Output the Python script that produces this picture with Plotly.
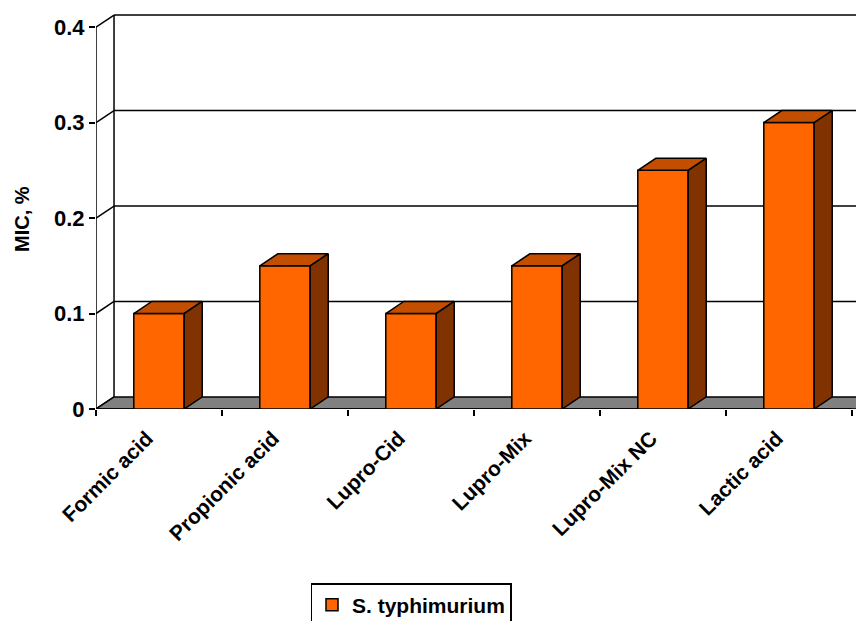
import plotly.graph_objects as go

# MIC values for S. typhimurium
categories = ["Formic acid", "Propionic acid", "Lupro-Cid", "Lupro-Mix", "Lupro-Mix NC", "Lactic acid"]
mic_values = [0.10, 0.15, 0.10, 0.15, 0.25, 0.30]
series_name = "S. typhimurium"
y_ticks = [0, 0.1, 0.2, 0.3, 0.4]
y_tick_text = ["0", "0.1", "0.2", "0.3", "0.4"]

# pseudo-3D depth offset (in data units) and bar width
DX = 0.143
DY = 0.0126
BAR_W = 0.4

FRONT = "#FF6600"
TOP = "#C44E00"
SIDE = "#803300"
FLOOR = "#808080"
FONT = "Liberation Sans, Arial, sans-serif"

n = len(categories)
xs = list(range(n))
x_left = -0.5
x_right = n - 0.5
x_max = x_right + 4 / 126  # small strip of floor visible beyond the last tick

fig = go.Figure()

# front faces
fig.add_trace(go.Bar(
    x=xs, y=mic_values, width=BAR_W, name=series_name,
    marker=dict(color=FRONT, line=dict(color="black", width=1.5)),
    showlegend=True,
))

# top and side faces of each bar
for x, v in zip(xs, mic_values):
    l, r = x - BAR_W / 2, x + BAR_W / 2
    fig.add_trace(go.Scatter(
        x=[l, l + DX, r + DX, r, l], y=[v, v + DY, v + DY, v, v],
        mode="lines", fill="toself", fillcolor=TOP,
        line=dict(color="black", width=1.5), showlegend=False, hoverinfo="skip",
    ))
    fig.add_trace(go.Scatter(
        x=[r, r + DX, r + DX, r, r], y=[0, DY, v + DY, v, 0],
        mode="lines", fill="toself", fillcolor=SIDE,
        line=dict(color="black", width=1.5), showlegend=False, hoverinfo="skip",
    ))

shapes = []
line_style = dict(color="black", width=1.5)
# back wall gridlines and top edge
for t in y_ticks[1:]:
    shapes.append(dict(type="line", xref="x", yref="y", layer="below",
                       x0=x_left + DX, x1=x_right + DX + 1, y0=t + DY, y1=t + DY,
                       line=line_style))
# back wall left edge
shapes.append(dict(type="line", xref="x", yref="y", layer="below",
                   x0=x_left + DX, x1=x_left + DX, y0=DY, y1=y_ticks[-1] + DY,
                   line=line_style))
# side wall diagonals at each tick
for t in y_ticks:
    shapes.append(dict(type="line", xref="x", yref="y", layer="below",
                       x0=x_left, x1=x_left + DX, y0=t, y1=t + DY, line=line_style))
# floor
shapes.append(dict(type="path", xref="x", yref="y", layer="below",
                   path=f"M {x_left},0 L {x_right + 1},0 L {x_right + 1 + DX},{DY} "
                        f"L {x_left + DX},{DY} Z",
                   fillcolor=FLOOR, line=line_style))
# front y axis line
shapes.append(dict(type="line", xref="x", yref="y", layer="above",
                   x0=x_left, x1=x_left, y0=0, y1=y_ticks[-1], line=line_style))
# front x axis line
shapes.append(dict(type="line", xref="x", yref="y", layer="below",
                   x0=x_left, x1=x_right, y0=0, y1=0, line=line_style))

fig.update_layout(
    width=856, height=621,
    margin=dict(l=96, r=0, t=8, b=212),
    paper_bgcolor="white", plot_bgcolor="white",
    font=dict(family=FONT, color="black"),
    shapes=shapes,
    xaxis=dict(
        range=[x_left, x_max], showgrid=False, zeroline=False, showline=False,
        automargin=False,
        tickmode="array", tickvals=xs, ticktext=categories, tickangle=-45,
        ticks="", tickfont=dict(size=21, weight=700, family=FONT),
        ticklabelstandoff=12, ticklabelshift=-12,
        minor=dict(tickmode="array", tickvals=[i - 0.5 for i in range(n + 1)],
                   ticks="outside", ticklen=6, tickwidth=1.5, tickcolor="black",
                   showgrid=False),
    ),
    yaxis=dict(
        range=[0, 0.42], showgrid=False, zeroline=False, showline=False,
        automargin=False,
        tickmode="array", tickvals=y_ticks, ticktext=y_tick_text,
        ticks="outside", ticklen=6, tickwidth=1.5, tickcolor="black",
        tickfont=dict(size=22, weight=700, family=FONT),
    ),
    annotations=[dict(
        text="MIC, %", textangle=-90, xref="paper", yref="paper",
        x=(22 - 96) / 760, y=(409 - 219) / 401, xanchor="center", yanchor="middle",
        showarrow=False, font=dict(size=20, weight=700, family=FONT),
    )],
    legend=dict(
        orientation="h", xref="container", yref="container",
        x=411 / 856, xanchor="center",
        y=(621 - 583) / 621, yanchor="top",
        bordercolor="black", borderwidth=1.5, bgcolor="white",
        font=dict(size=21, weight=700, family=FONT),
    ),
    showlegend=True,
)

fig.write_html("out.html")
